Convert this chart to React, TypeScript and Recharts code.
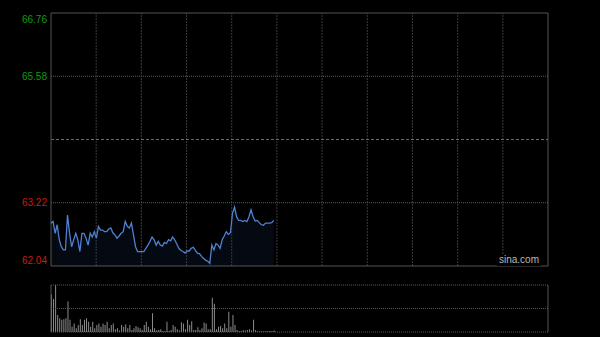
import React from "react";
import {
  ComposedChart,
  Area,
  Line,
  Bar,
  BarChart,
  XAxis,
  YAxis,
  ReferenceLine,
} from "recharts";

const priceValues: number[] = [
  62.84, 62.87, 62.65, 62.81, 62.53, 62.4, 62.34, 62.34, 62.99, 62.65,
  62.4, 62.53, 62.65, 62.53, 62.31, 62.65, 62.65, 62.56, 62.43, 62.65,
  62.58, 62.68, 62.56, 62.78, 62.71, 62.71, 62.68, 62.68, 62.73, 62.75,
  62.66, 62.62, 62.56, 62.6, 62.65, 62.68, 62.87, 62.78, 62.75, 62.84,
  62.62, 62.4, 62.31, 62.31, 62.31, 62.31, 62.37, 62.43, 62.5, 62.58,
  62.53, 62.43, 62.5, 62.43, 62.41, 62.48, 62.46, 62.53, 62.51, 62.58,
  62.53, 62.45, 62.37, 62.33, 62.31, 62.28, 62.32, 62.32, 62.37, 62.39,
  62.33, 62.28, 62.27, 62.22, 62.18, 62.15, 62.13, 62.09, 62.43, 62.34,
  62.46, 62.43, 62.37, 62.53, 62.6, 62.68, 62.63, 62.66, 63.02, 63.14,
  62.96, 62.89, 62.89, 62.87, 62.89, 62.87, 62.96, 63.09, 62.96, 62.88,
  62.89, 62.85, 62.81, 62.8, 62.84, 62.84, 62.84, 62.85, 62.89,
];

const volumeValues: number[] = [
  79, 70, 100, 36, 29, 26, 27, 29, 65, 26,
  11, 18, 8, 15, 27, 15, 26, 29, 22, 11,
  22, 8, 15, 18, 11, 18, 15, 22, 8, 15,
  18, 6, 8, 3, 15, 11, 16, 8, 15, 4,
  8, 13, 10, 8, 4, 15, 22, 11, 6, 40,
  8, 3, 4, 6, 2, 1.5, 22, 2, 4, 15,
  11, 6, 3, 21, 18, 6, 26, 15, 23, 4,
  4, 10, 4, 8, 20, 18, 6, 6, 73, 60,
  6, 11, 13, 8, 18, 8, 43, 11, 36, 15,
  4, 2, 2, 4, 3, 4, 6, 3, 26, 4,
  1.5, 1.5, 1.5, 1, 1.5, 1.5, 2, 1.5, 3,
];

const prevClose = 64.4;
const priceMin = 62.04;
const priceMax = 66.76;
const priceTicks: number[] = [62.04, 63.22, 65.58, 66.76];
const pctTicks: number[] = [-3.67, -1.83, 1.83, 3.67];
const totalMinutes = 241;
const gridDivisions = 11;
const verticalGrid: number[] = Array.from(
  { length: gridDivisions - 1 },
  (_, k) => ((k + 1) * totalMinutes) / gridDivisions
);

const priceData = priceValues.map((p, i) => ({ i, p }));
const volumeData = volumeValues.map((v, i) => ({ i, v }));

const GREEN = "#109a10";
const RED = "#cc1a10";
const FONT = "'Liberation Sans', Arial, sans-serif";

const LeftTick = (props: any) => {
  const { x, y, payload } = props;
  const v = payload.value;
  const color = v > prevClose ? GREEN : RED;
  const dy = v === priceMax ? 6 : v === priceMin ? -6 : 0;
  return (
    <text x={x} y={y + dy} dy="0.36em" textAnchor="end" fill={color} fontSize={10} fontFamily={FONT}>
      {v.toFixed(2)}
    </text>
  );
};

const RightTick = (props: any) => {
  const { x, y, payload } = props;
  const v = payload.value;
  const color = v > 0 ? GREEN : RED;
  const dy = v === 3.67 ? 6 : v === -3.67 ? -6 : 0;
  return (
    <text x={x} y={y + dy} dy="0.36em" textAnchor="start" fill={color} fontSize={10} fontFamily={FONT}>
      {(v > 0 ? "+" : "") + v.toFixed(2) + "%"}
    </text>
  );
};

export default function App() {
  return (
    <div
      style={{
        position: "absolute",
        left: 0,
        top: 0,
        width: 600,
        height: 337,
        background: "#000",
        overflow: "hidden",
      }}
    >
      <div style={{ position: "absolute", left: 0, top: 0 }}>
        <ComposedChart
          width={600}
          height={337}
          data={priceData}
          margin={{ top: 13, right: 0, bottom: 71, left: 0 }}
        >
          <XAxis dataKey="i" type="number" domain={[0, totalMinutes]} hide />
          <YAxis
            yAxisId="p"
            orientation="left"
            width={51}
            domain={[priceMin, priceMax]}
            ticks={priceTicks}
            axisLine={false}
            tickLine={false}
            tickSize={0}
            tickMargin={4}
            tick={<LeftTick />}
            interval={0}
          />
          <YAxis
            yAxisId="r"
            orientation="right"
            width={52}
            domain={[-3.67, 3.67]}
            ticks={pctTicks}
            axisLine={false}
            tickLine={false}
            tickSize={0}
            tickMargin={6}
            tick={<RightTick />}
            interval={0}
          />
          {verticalGrid.map((g) => (
            <ReferenceLine key={g} yAxisId="p" x={g} stroke="#3a3a3a" strokeDasharray="2 1" />
          ))}
          <ReferenceLine yAxisId="p" y={65.58} stroke="#5a5a5a" strokeDasharray="1 1" />
          <ReferenceLine yAxisId="p" y={63.22} stroke="#5a5a5a" strokeDasharray="1 1" />
          <ReferenceLine yAxisId="p" y={prevClose} stroke="#6a6a6a" strokeDasharray="3 2" />
          <ReferenceLine yAxisId="p" y={priceMax} stroke="#555" />
          <ReferenceLine yAxisId="p" y={priceMin} stroke="#555" />
          <ReferenceLine yAxisId="p" x={0} stroke="#555" />
          <ReferenceLine yAxisId="p" x={totalMinutes} stroke="#555" />
          <Area
            yAxisId="p"
            dataKey="p"
            type="linear"
            stroke="none"
            fill="#2a4a8a"
            fillOpacity={0.12}
            isAnimationActive={false}
            baseValue={priceMin}
          />
          <Line
            yAxisId="p"
            dataKey="p"
            type="linear"
            stroke="#4f81d0"
            strokeWidth={1.3}
            dot={false}
            isAnimationActive={false}
          />
        </ComposedChart>
      </div>
      <div
        style={{
          position: "absolute",
          left: 497,
          top: 254,
          padding: "0 2px",
          background: "#000",
          color: "#b8b8b8",
          fontFamily: FONT,
          fontSize: 10,
          lineHeight: "12px",
        }}
      >
        sina.com
      </div>
      <div style={{ position: "absolute", left: 0, top: 0 }}>
        <BarChart
          width={600}
          height={337}
          data={volumeData}
          margin={{ top: 285, right: 52, bottom: 5, left: 51 }}
          barSize={1}
        >
          <XAxis dataKey="i" type="number" domain={[0, totalMinutes]} hide />
          <YAxis domain={[0, 100]} hide />
          <ReferenceLine y={100} stroke="#5a5a5a" strokeDasharray="1 1" />
          <ReferenceLine y={50} stroke="#5a5a5a" strokeDasharray="1 1" />
          <ReferenceLine y={0} stroke="#5a5a5a" strokeDasharray="1 1" />
          <ReferenceLine x={0} stroke="#555" />
          <ReferenceLine x={totalMinutes} stroke="#555" />
          <Bar dataKey="v" fill="#8c8c8c" isAnimationActive={false} />
        </BarChart>
      </div>
    </div>
  );
}
